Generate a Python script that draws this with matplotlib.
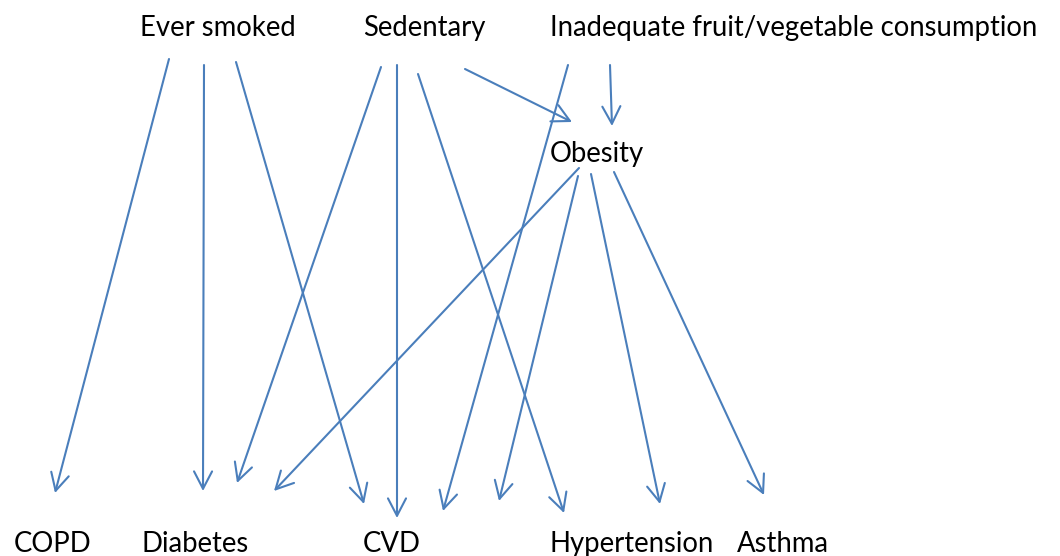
import matplotlib

matplotlib.use("Agg")
import matplotlib.pyplot as plt

# nodes of the diagram
risk_factors = ["Ever smoked", "Sedentary", "Inadequate fruit/vegetable consumption"]
mediator = ["Obesity"]
outcomes = ["COPD", "Diabetes", "CVD", "Hypertension", "Asthma"]

# directed edges (source, target)
edges = [
    ("Ever smoked", "COPD"),
    ("Ever smoked", "Diabetes"),
    ("Ever smoked", "CVD"),
    ("Sedentary", "Diabetes"),
    ("Sedentary", "CVD"),
    ("Sedentary", "Hypertension"),
    ("Sedentary", "Obesity"),
    ("Inadequate fruit/vegetable consumption", "CVD"),
    ("Inadequate fruit/vegetable consumption", "Obesity"),
    ("Obesity", "Diabetes"),
    ("Obesity", "CVD"),
    ("Obesity", "Hypertension"),
    ("Obesity", "Asthma"),
]

# layout (pixel frame, y down): label anchor (left, baseline)
label_pos = {
    "Ever smoked": (140, 36),
    "Sedentary": (363, 36),
    "Inadequate fruit/vegetable consumption": (550, 36),
    "Obesity": (550, 162),
    "COPD": (14, 552),
    "Diabetes": (142, 552),
    "CVD": (363, 552),
    "Hypertension": (550, 552),
    "Asthma": (737, 552),
}

# arrow start / tip for each edge, same order as edges
arrow_start = [(169, 59), (204, 65), (236, 62), (381, 67), (397, 65), (418, 74),
               (465, 69), (568, 65), (610, 65), (579, 168), (578, 176),
               (591, 174), (614, 172)]
arrow_tip = [(55, 493), (203, 491), (364, 504), (237, 483), (397, 518), (564, 513),
             (572, 122), (443, 511), (612, 126), (274, 491), (499, 501),
             (660, 504), (764, 495)]

LINE = "#4a7ebb"

fig = plt.figure(figsize=(10.6, 5.56), dpi=100)
ax = fig.add_axes([0, 0, 1, 1])
ax.set_xlim(0, 1060)
ax.set_ylim(556, 0)
ax.axis("off")

for (src, dst), p0, p1 in zip(edges, arrow_start, arrow_tip):
    ax.annotate(
        "", xy=p1, xytext=p0,
        arrowprops=dict(arrowstyle="->,head_length=1.25,head_width=0.65",
                        color=LINE, lw=1.5, shrinkA=0, shrinkB=0),
    )

for name in risk_factors + mediator + outcomes:
    x, y = label_pos[name]
    ax.text(x, y, name, ha="left", va="baseline", fontsize=19.8,
            family="Lato", color="black")

fig.savefig("out.png", dpi=100)
plt.close(fig)
